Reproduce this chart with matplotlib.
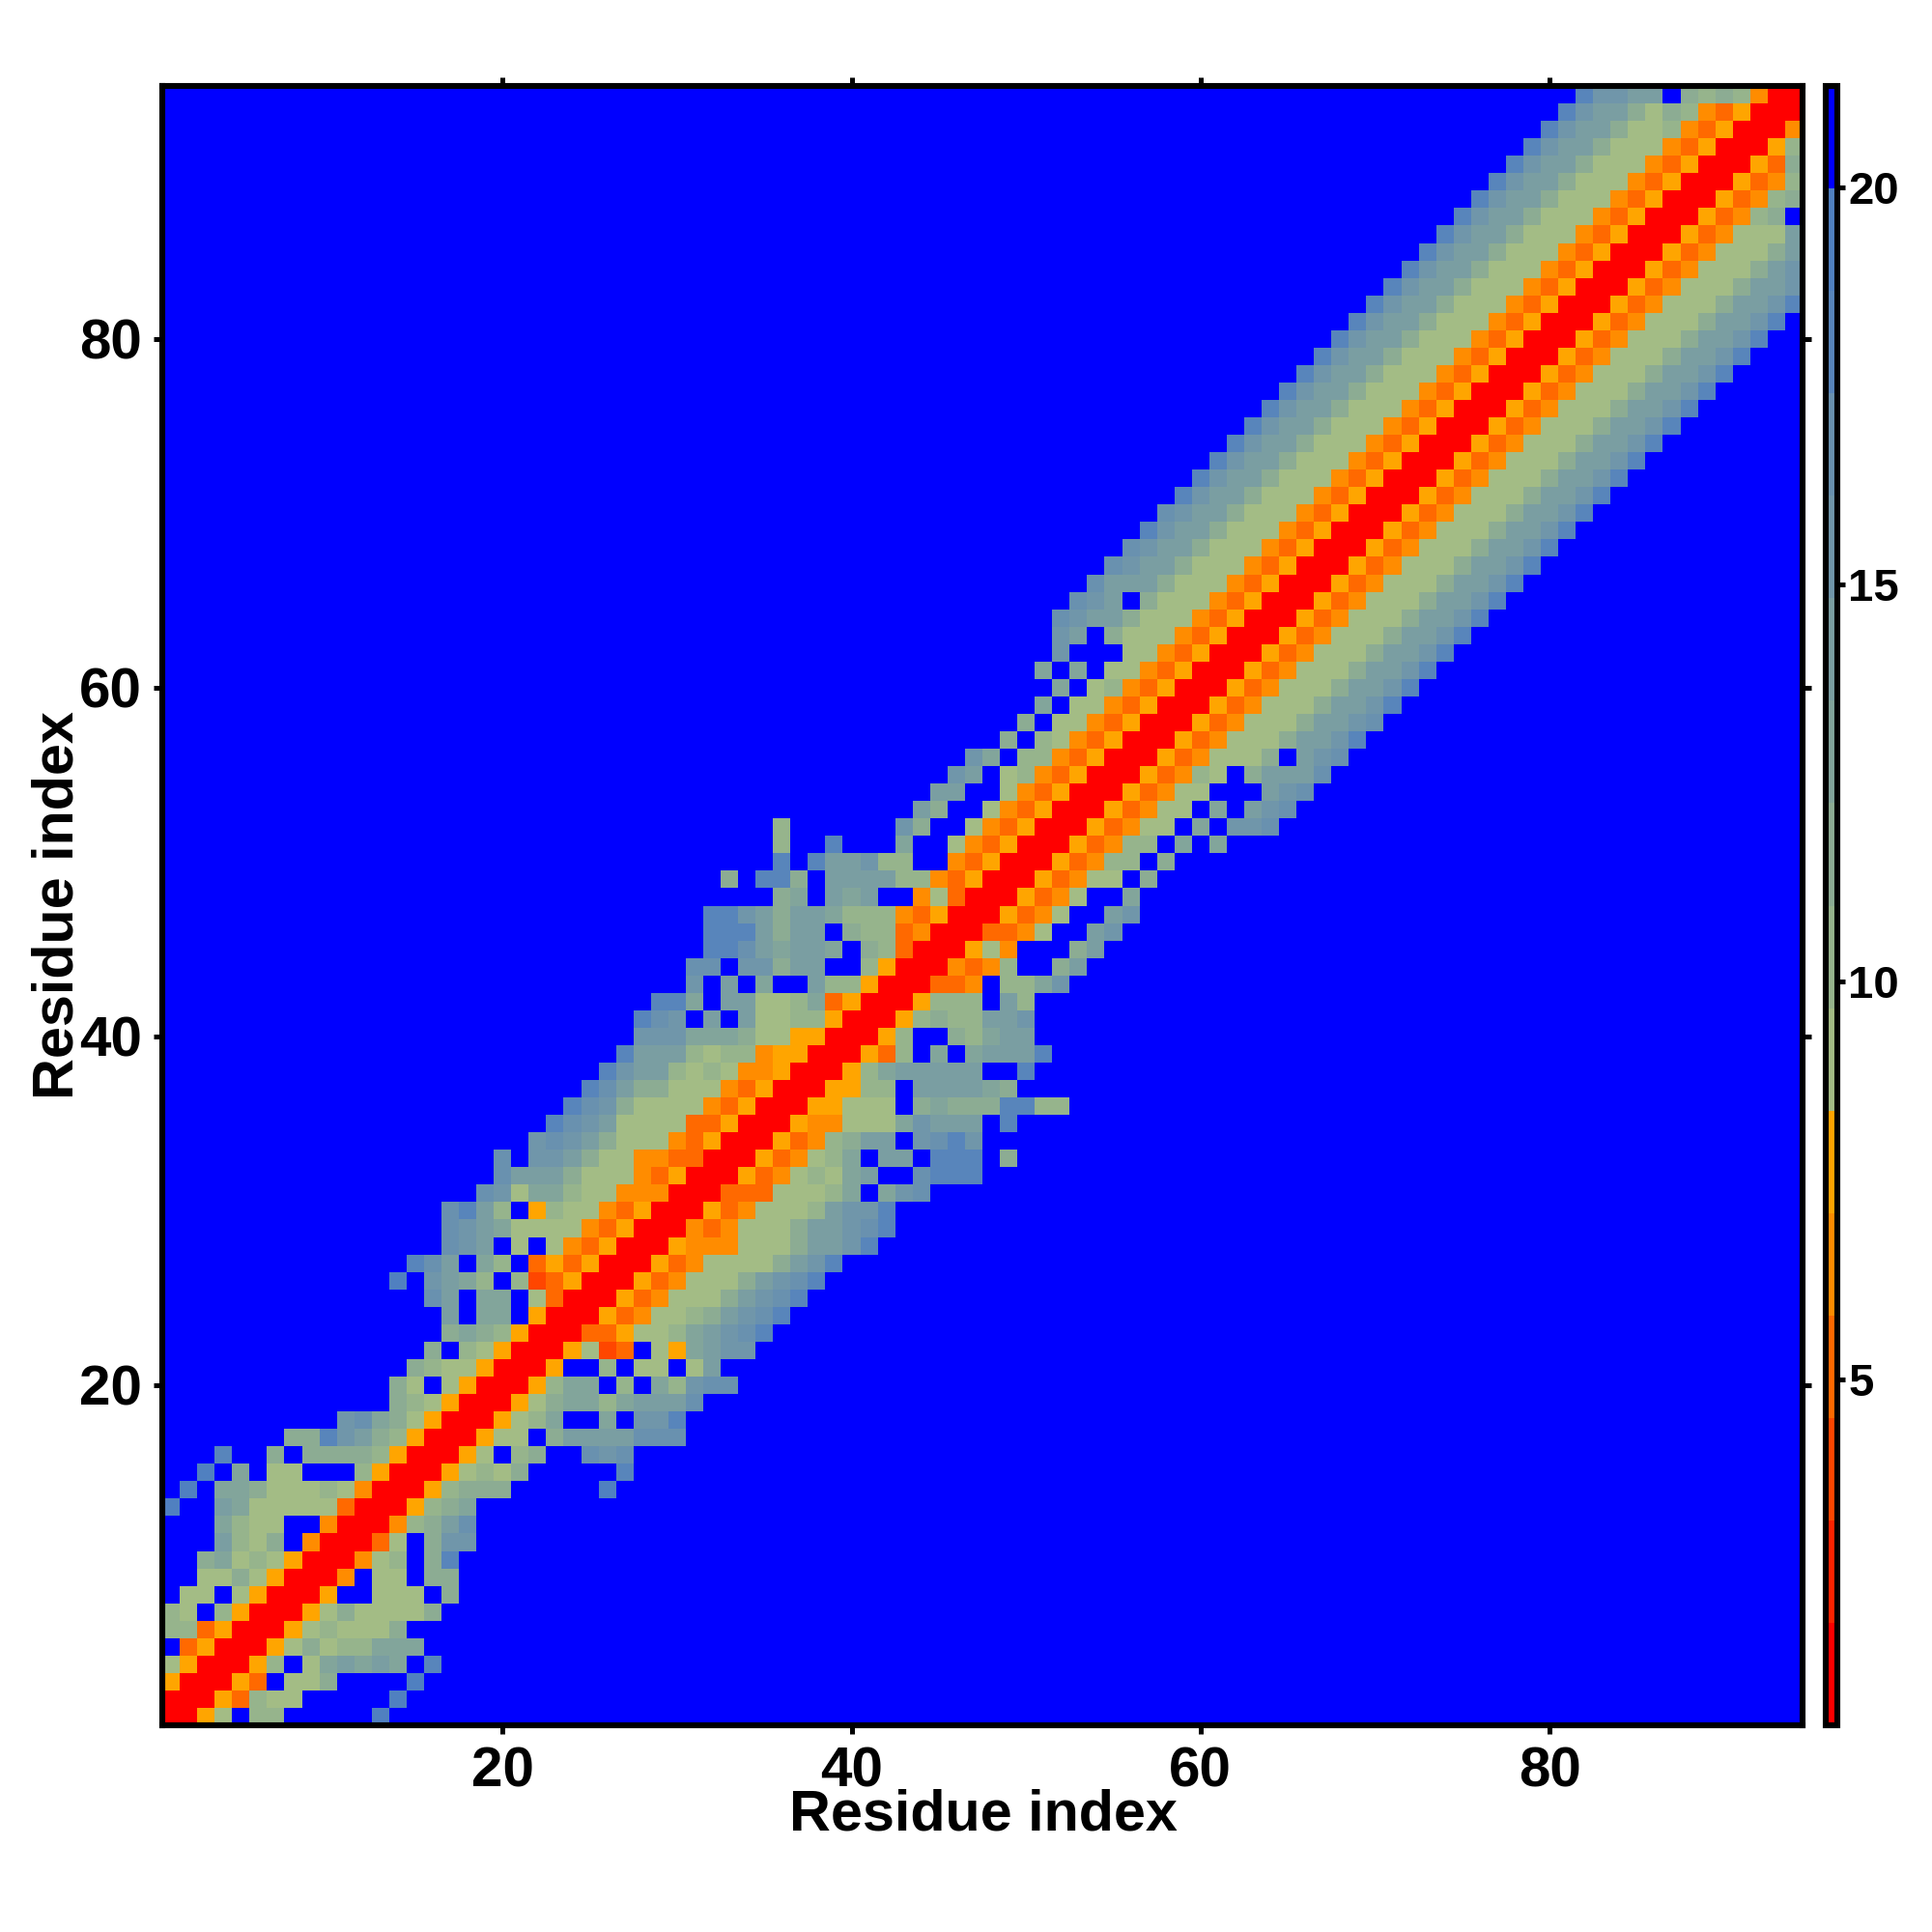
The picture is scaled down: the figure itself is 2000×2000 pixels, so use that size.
import numpy as np
import matplotlib
matplotlib.use("Agg")
import matplotlib.pyplot as plt
from matplotlib.colors import ListedColormap, BoundaryNorm
from matplotlib.cm import ScalarMappable

plt.rcParams['font.family'] = ['Liberation Sans', 'DejaVu Sans']
plt.rcParams['font.weight'] = 'bold'

# colour-band edges (first band 0.64, band width about 1.29)
band_edges = [0.64, 1.93, 3.22, 4.51, 5.80, 7.09, 8.38, 9.67, 10.96,
              12.25, 13.54, 14.83, 16.12, 17.41, 18.70, 19.99, 21.28]
band_colors = ['#ff0000', '#ff2300', '#ff4600', '#ff6900', '#ff8c00', '#ffa500',
               '#a3bc85', '#96b48c', '#8cac93', '#82a59b', '#7a9ea2', '#7096aa',
               '#6991af', '#5885bb', '#5080c0', '#0000ff']

# upper triangle, one string per residue: band of column r, r+1, ... (hex digit), rest is blue
rows_01_14 = ["0056F77FFFFFE", "0053766FFFFFE", "0053F668FFFFE", "0057F69A9A9FD",
              "00568677999", "005676668", "0056866668", "005FF666F8", "004F66F88",
              "00467F8D", "0036F8BB", "00478AC", "005789", "0057888FFFFFE"]
rows_15_28 = ["0056768FFFFFD", "0056F78FFCBC", "00566F8AAAACCC", "005679FF9FBBD",
              "005689979AAAC", "005799F7F97BCC", "005FF7F66F6A", "005623F659ABB",
              "003356679ABCD", "005346678ABCD", "005346668ABCD", "005346668ABCD",
              "0053466668ABD", "0054446668AABD"]
rows_29_42 = ["004346668AABCD", "005346667ABBD", "0033366679F9BC", "005346769AFFCDDD",
              "00534679FAAFDDDF8", "0053478AAFBCDB", "005446669BAAAFD",
              "0055666F89888DD77", "005577FAAAA98", "00579AAAAAFFD", "00537F9F9AAAD",
              "0057FF879AA", "0057877AAB", "005777FA7"]
rows_43_56 = ["00334F779B", "004347FF8A", "00564FFF8A", "003346FFAB", "005346FFAB",
              "005346FF9", "0053466F8", "0053477F8", "0053477F9F9", "0053466F9FBBC",
              "0053466F9FABC", "0053466FFFABC", "0053476F8AAAC", "005346668FABC"]
rows_57_70 = ["005346668AABD", "005346668AABC", "005346668AABD", "005346668AABD",
              "005346668AABD", "005346668AABD", "005346668AABD", "005346668AABD",
              "005346668AABD", "005346668AABD", "005346668AABD", "005346668AABD",
              "005346668AABD", "005346668AABD"]
rows_71_82 = ["005346668AABD", "005346668AABD", "005346668AABD", "005346668AABD",
              "005346668AABD", "005346668AABD", "005346668AABD", "005346668AABD",
              "005346668AABD", "005346668AABD", "005346668AABD", "005346668AABD"]
rows_83_94 = ["005346668AAB", "005346668AB", "005346668A", "00534666A", "0053478F",
              "0053478", "005347", "00538", "0057", "004", "00", "0"]

x_ticks = [20, 40, 60, 80]
bar_ticks = [5, 10, 15, 20]
axis_label = "Residue index"

all_rows = rows_01_14 + rows_15_28 + rows_29_42 + rows_43_56 + rows_57_70 + rows_71_82 + rows_83_94
n = len(all_rows)
mids = [(band_edges[i] + band_edges[i + 1]) / 2 for i in range(16)]
D = np.full((n, n), mids[15])
for r, text in enumerate(all_rows):
    for k, ch in enumerate(text):
        D[r, r + k] = D[r + k, r] = mids[int(ch, 16)]

cmap = ListedColormap(band_colors)
norm = BoundaryNorm(band_edges, cmap.N)

W = 2000.0
fig = plt.figure(figsize=(10, 10), dpi=200, facecolor='white')
ax = fig.add_axes([168 / W, 1 - 1786 / W, (1866 - 168) / W, (1786 - 89) / W])
ax.imshow(D, origin='lower', extent=(0.5, n + 0.5, 0.5, n + 0.5), aspect='auto',
          cmap=cmap, norm=norm, interpolation='nearest')
ax.set_xticks(x_ticks)
ax.set_yticks(x_ticks)
ax.tick_params(axis='both', which='major', direction='out', length=3.2, width=1.8,
               top=True, right=True, labelsize=21, pad=4.5)
for s in ax.spines.values():
    s.set_linewidth(2.2)
fig.text(1018 / W, 1 - 1879 / W, axis_label, fontsize=21.4, fontweight='bold', ha='center', va='center')
fig.text(60 / W, 1 - 937 / W, axis_label, fontsize=21.4, fontweight='bold', ha='center', va='center', rotation=90)

cax = fig.add_axes([1890 / W, 1 - 1786 / W, 12 / W, (1786 - 89) / W])
cb = fig.colorbar(ScalarMappable(norm=norm, cmap=cmap), cax=cax, spacing='proportional', ticks=bar_ticks)
cb.ax.set_yticklabels([str(t) for t in bar_ticks])
cb.ax.minorticks_off()
cb.ax.tick_params(axis='y', which='major', direction='out', length=3, width=1.8, labelsize=17, pad=1)
cb.outline.set_linewidth(2.2)

fig.savefig('out.png', dpi=200)
